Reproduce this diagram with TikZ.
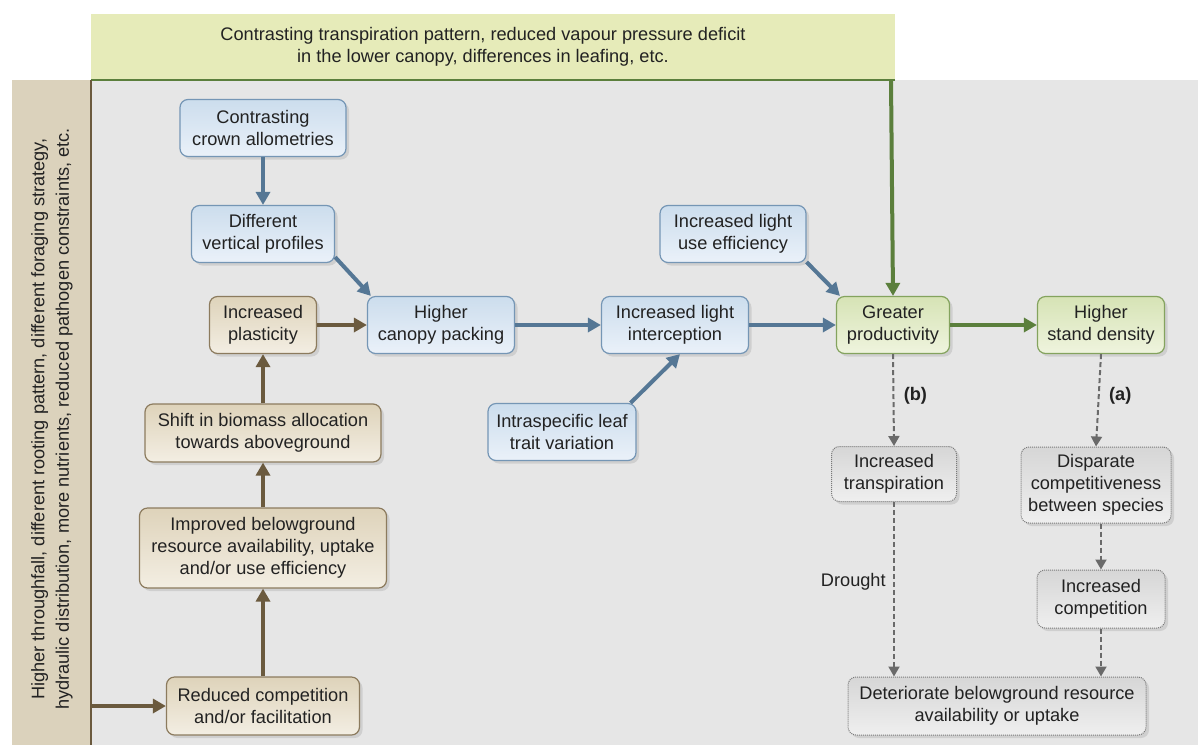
\documentclass[tikz,border=0pt]{standalone}
\usepackage{fontspec}
\setmainfont{Liberation Sans}
\usetikzlibrary{shadows,arrows.meta,positioning,calc}
\definecolor{bggray}{HTML}{E6E6E6}
\definecolor{bannerc}{HTML}{E6EBB9}
\definecolor{stripc}{HTML}{DBD2BC}
\definecolor{bluearr}{HTML}{557795}
\definecolor{brownarr}{HTML}{6B5A3E}
\definecolor{greenarr}{HTML}{5B7F3C}
\definecolor{blueT}{HTML}{CCDDED}
\definecolor{blueB}{HTML}{EAF1F9}
\definecolor{blueD}{HTML}{7596B5}
\definecolor{brownT}{HTML}{DED3BA}
\definecolor{brownB}{HTML}{F3EEE3}
\definecolor{brownD}{HTML}{8C7B5E}
\definecolor{greenT}{HTML}{D6E3B5}
\definecolor{greenB}{HTML}{EFF4DE}
\definecolor{greenD}{HTML}{84A35E}
\definecolor{grayT}{HTML}{D6D6D6}
\definecolor{grayB}{HTML}{EFEFEF}
\definecolor{grayD}{HTML}{7A7A7A}
\definecolor{txt}{HTML}{222222}
\definecolor{dasharr}{HTML}{6A6A6A}
\newcommand{\fs}{\fontsize{18.2}{22}\selectfont}
\tikzset{
  box/.style={rounded corners=8pt, line width=1.2pt, align=center, inner sep=0pt,
    minimum height=57pt, text=txt, font=\fs,
    drop shadow={opacity=0.22, shadow xshift=3pt, shadow yshift=-3pt}},
  bluebox/.style={box, draw=blueD, top color=blueT, bottom color=blueB},
  brownbox/.style={box, draw=brownD, top color=brownT, bottom color=brownB},
  greenbox/.style={box, draw=greenD, top color=greenT, bottom color=greenB},
  graybox/.style={box, draw=grayD, line width=1pt, densely dotted, top color=grayT, bottom color=grayB},
  barrow/.style={line width=4pt, draw=bluearr, -{Triangle[length=13pt,width=14pt]}},
  brarrow/.style={line width=4pt, draw=brownarr, -{Triangle[length=13pt,width=14pt]}},
  grarrow/.style={line width=4pt, draw=greenarr, -{Triangle[length=13pt,width=14pt]}},
  darrow/.style={line width=2pt, draw=dasharr, dash pattern=on 5pt off 3pt, -{Triangle[length=10pt,width=11pt]}},
  lbl/.style={text=txt, font=\fs},
}
\begin{document}
\begin{tikzpicture}[x=1pt,y=-1pt]
\useasboundingbox (0,0) rectangle (1198,745);
% backgrounds
\fill[bggray] (91,80) rectangle (1198,745);
\node[fill=stripc, minimum width=79pt, minimum height=665pt, inner sep=0pt, anchor=north west] (strip) at (12,80) {};
\node[fill=bannerc, minimum width=804pt, minimum height=66pt, inner sep=0pt, anchor=north west] (banner) at (91,14) {};
\node[lbl, align=center] (bannertxt) at (483,47) {Contrasting transpiration pattern, reduced vapour pressure deficit\\in the lower canopy, differences in leafing, etc.};
\node[text=txt, font=\fontsize{18.2}{24.5}\selectfont, align=center, rotate=90] (striptxt) at (52,419) {Higher throughfall, different rooting pattern, different foraging strategy,\\hydraulic distribution, more nutrients, reduced pathogen constraints, etc.};
\draw[greenarr, line width=2pt] (banner.south west) -- (banner.south east);
\draw[brownarr, line width=2pt] (strip.north east) -- (strip.south east);

% nodes
\node[bluebox, minimum width=166pt] (crown) at (263,128) {Contrasting\\crown allometries};
\node[bluebox, minimum width=143pt] (vert) at (263,234) {Different\\vertical profiles};
\node[brownbox, minimum width=107pt] (plast) at (263,325) {Increased\\plasticity};
\node[bluebox, minimum width=147pt] (canopy) at (441,325) {Higher\\canopy packing};
\node[bluebox, minimum width=147pt] (interc) at (675,325) {Increased light\\interception};
\node[bluebox, minimum width=146pt] (lue) at (733,234) {Increased light\\use efficiency};
\node[bluebox, minimum width=148pt] (intra) at (562,432) {Intraspecific leaf\\trait variation};
\node[greenbox, minimum width=113pt] (greater) at (893,325) {Greater\\productivity};
\node[greenbox, minimum width=127pt] (stand) at (1101,325) {Higher\\stand density};
\node[brownbox, minimum width=236pt, minimum height=58pt] (shift) at (263,433) {Shift in biomass allocation\\towards aboveground};
\node[brownbox, minimum width=247pt, minimum height=80pt] (improved) at (263,548) {Improved belowground\\resource availability, uptake\\and/or use efficiency};
\node[brownbox, minimum width=193pt, minimum height=58pt] (reduced) at (263,706) {Reduced competition\\and/or facilitation};
\node[graybox, minimum width=125pt, minimum height=55pt] (transp) at (894,474) {Increased\\transpiration};
\node[graybox, minimum width=150pt, minimum height=76pt] (disp) at (1096,485) {Disparate\\competitiveness\\between species};
\node[graybox, minimum width=128pt, minimum height=58pt] (comp) at (1101,599) {Increased\\competition};
\node[graybox, minimum width=298pt, minimum height=58pt] (det) at (997,706) {Deteriorate belowground resource\\availability or uptake};

% blue arrows
\draw[barrow] (crown.south) -- (vert.north);
\draw[barrow] ([yshift=6pt]vert.south east) -- ([xshift=4pt]canopy.north west);
\draw[barrow] (canopy.east) -- (interc.west);
\draw[barrow] (interc.east) -- (greater.west);
\draw[barrow] ([yshift=1pt]lue.south east) -- ([xshift=4pt]greater.north west);
\draw[barrow] ([xshift=-6pt]intra.north east) -- ([xshift=5pt]interc.south);
% brown arrows
\draw[brarrow] (plast.east) -- (canopy.west);
\draw[brarrow] (shift.north) -- (plast.south);
\draw[brarrow] (improved.north) -- (shift.south);
\draw[brarrow] (reduced.north) -- (improved.south);
\draw[brarrow] (strip.east |- reduced.west) -- (reduced.west);
% green arrows
\draw[grarrow] (greater.east) -- (stand.west);
\draw[grarrow] ([xshift=-2pt]banner.south east -| greater.north) -- (greater.north);
% dashed arrows
\draw[darrow] (greater.south) -- node[right=6pt, text=txt, font=\fs\bfseries, pos=0.45] (lb) {(b)} (transp.north);
\draw[darrow] (stand.south) -- node[right=6pt, text=txt, font=\fs\bfseries, pos=0.45] (la) {(a)} (disp.north);
\draw[darrow] ([xshift=5pt]disp.south) -- (comp.north);
\draw[darrow] (comp.south) -- (comp.south |- det.north);
\draw[darrow] (transp.south) -- node[left=4pt, lbl, pos=0.46] (ldr) {Drought} (transp.south |- det.north);
\end{tikzpicture}
\end{document}
